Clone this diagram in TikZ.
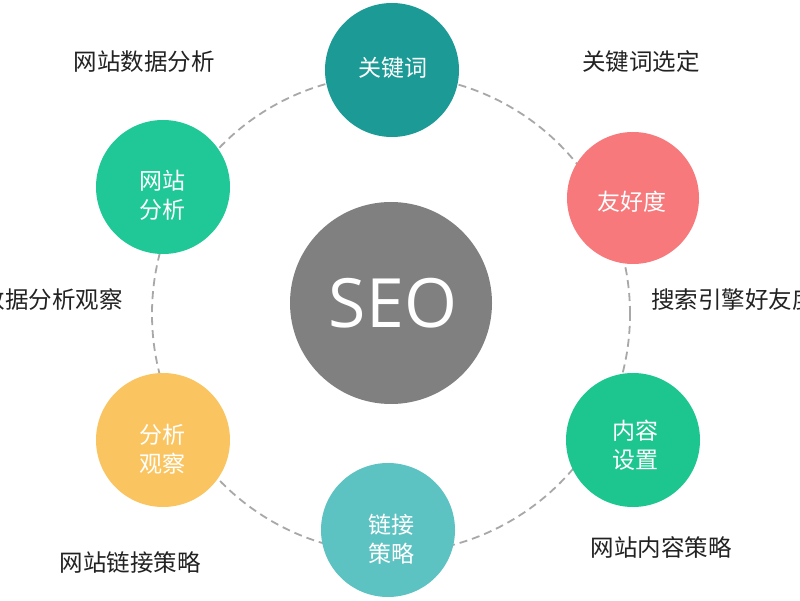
\documentclass[tikz,border=0pt]{standalone}
\usepackage{fontspec}
\setmainfont{Noto Sans CJK SC}
\newfontfamily\seofont{Open Sans}
\definecolor{ckey}{HTML}{1B9A96}
\definecolor{cfriend}{HTML}{F7797B}
\definecolor{cweb}{HTML}{1FC896}
\definecolor{cobs}{HTML}{FAC560}
\definecolor{ccontent}{HTML}{1EC68F}
\definecolor{clink}{HTML}{5DC3C2}
\definecolor{cseo}{HTML}{808080}
\definecolor{ctext}{HTML}{222222}
\definecolor{cdash}{HTML}{A8A8A8}
\begin{document}
\begin{tikzpicture}[x=1pt,y=1pt,
  sat/.style={circle, minimum size=134pt, inner sep=0pt},
  lbl/.style={font=\fontsize{23.5}{29}\selectfont, text=ctext, inner sep=0pt},
  intext/.style={font=\fontsize{23}{29}\selectfont, text=white, align=center, inner sep=0pt},
  ring/.style={draw=cdash, line width=1.8pt, dash pattern=on 8pt off 5pt}]
\useasboundingbox (0,0) rectangle (800,600);
\fill[white] (0,0) rectangle (800,600);
\clip (0,0) rectangle (800,600);
% dashed ring
\coordinate (ringc) at (391,286);
\draw[ring] (ringc) circle (239);
% central circle
\node[circle, fill=cseo, minimum size=202pt, inner sep=0pt] (seo) at (391,297) {};
\node[font=\seofont\fontsize{68}{68}\selectfont, text=white, inner sep=0pt] (seot) at (393,297) {SEO};
% satellites
\node[sat, fill=ckey] (key) at (392,530) {};
\node[sat, fill=cfriend, minimum size=132pt] (friend) at (633,402) {};
\node[sat, fill=cweb] (web) at (163,413) {};
\node[sat, fill=cobs] (obs) at (163,160) {};
\node[sat, fill=ccontent] (content) at (633,160) {};
\node[sat, fill=clink] (link) at (388,70) {};
% texts in satellites
\node[intext] (keyt) at (393,532) {关键词};
\node[intext] (friendt) at (632,398) {友好度};
\node[intext] (webt) at (162,405) {网站\\分析};
\node[intext] (obst) at (162,151) {分析\\观察};
\node[intext] (contentt) at (635,155) {内容\\设置};
\node[intext] (linkt) at (391,61) {链接\\策略};
% outer labels
\node[lbl] (l1) at (144,538) {网站数据分析};
\node[lbl] (l2) at (641,538) {关键词选定};
\node[lbl, anchor=west] (l3) at (651,300) {搜索引擎好友度};
\node[lbl, anchor=east] (l4) at (123,300) {数据分析观察};
\node[lbl] (l5) at (130,37) {网站链接策略};
\node[lbl] (l6) at (661,52) {网站内容策略};
\end{tikzpicture}
\end{document}
